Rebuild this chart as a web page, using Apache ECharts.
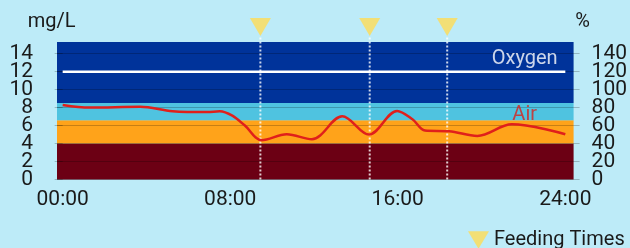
<!DOCTYPE html>
<html>
<head>
<meta charset="utf-8">
<script src="https://cdn.jsdelivr.net/npm/echarts@6/dist/echarts.min.js"></script>
<style>
  html, body { margin: 0; padding: 0; background: #bdebf8; }
  #chart { width: 630px; height: 248px; }
</style>
</head>
<body>
<div id="chart"></div>
<script>
// dissolved oxygen over the day (hours, mg/L)
var doHours  = [0, 1.3, 3.7, 5.25, 6.9, 7.5, 8.1, 8.7, 9.5, 10.7, 11.9, 13.35, 14.63, 15.97, 16.7, 17.3, 18.45, 19.8, 21.45, 24.0];
var doValues = [8.3, 8.0, 8.1, 7.6, 7.5, 7.6, 7.1, 6.0, 4.37, 5.03, 4.48, 7.03, 5.0, 7.62, 6.7, 5.45, 5.37, 4.85, 6.14, 5.03];

// oxygen saturation reference line
var oxygenHours = [0, 24];
var oxygenLevel = 12;

// feeding times (hours)
var feedTimes = [9.44, 14.66, 18.36];

// background bands (mg/L)
var bandFrom = [0, 4, 6.6, 8.5];
var bandTo   = [4, 6.6, 8.5, 15.3];

// labels on the right
var refLabels = ['Oxygen', 'Air'];
var refLabelY = [12, 6.6];
var refLabelX = 22.06;

var xTicks = [0, 8, 16, 24];
var xTickLabels = ['00:00', '08:00', '16:00', '24:00'];
var mgTicks = [0, 2, 4, 6, 8, 10, 12, 14];
var pctTicks = [0, 20, 40, 60, 80, 100, 120, 140];

var bandColors = ['#6c0014', '#ffa31a', '#4fc3e0', '#00339a'];
var font = 'Roboto';
var tickColor = 'rgba(0,0,0,0.22)';

var chart = echarts.init(document.getElementById('chart'));

var series = [];

// bands
series.push({
    type: 'line',
    data: [],
    z: 1,
    silent: true,
    markArea: {
        silent: true,
        data: bandFrom.map(function(f, i) {
            return [{ yAxis: f, itemStyle: { color: bandColors[i] } }, { yAxis: bandTo[i] }];
        })
    }
});

// feeding time dotted lines
feedTimes.forEach(function(t) {
    series.push({
        type: 'line',
        data: [[t, 0], [t, 15.94]],
        clip: false,
        symbol: 'none',
        silent: true,
        z: 4,
        lineStyle: { color: 'rgba(255,255,255,0.8)', width: 2, type: [2, 2] }
    });
});

series.push({
    name: 'Feeding Times',
    type: 'scatter',
    clip: false,
    symbol: 'path://M0,0L24,0L12,20Z',
    symbolSize: [21, 18],
    itemStyle: { color: '#ffdc55' },
    data: feedTimes.map(function(t) { return [t, 16.96]; }),
    z: 6
});

series.push({
    type: 'line',
    data: oxygenHours.map(function(h) { return [h, oxygenLevel]; }),
    symbol: 'none',
    lineStyle: { color: '#ffffff', width: 2.5 },
    z: 5
});

series.push({
    type: 'line',
    data: doHours.map(function(h, i) { return [h, doValues[i]]; }),
    smooth: 0.35,
    symbol: 'none',
    lineStyle: { color: '#e0201b', width: 2.5 },
    z: 5
});

series.push({
    type: 'scatter',
    symbolSize: 1,
    itemStyle: { color: 'rgba(0,0,0,0)' },
    silent: true,
    z: 6,
    data: refLabels.map(function(name, i) {
        return {
            value: [refLabelX, refLabelY[i]],
            label: {
                show: true,
                position: 'top',
                distance: i === 0 ? 2 : 0,
                offset: i === 0 ? [0, 0] : [0, 5],
                formatter: name,
                fontFamily: font,
                fontSize: 20,
                color: i === 0 ? '#ffffff' : '#d9221c'
            }
        };
    })
});

// labels are packed tighter than their font, so each side is split over two
// axes (every other tick) so that none of them get hidden as overlapping
function yAxisPart(side, max, ticks, odd, main) {
    var vals = ticks.filter(function(v, i) { return i % 2 === odd; });
    var left = side === 'left';
    return {
        type: 'value',
        min: 0,
        max: max,
        position: side,
        z: 3,
        name: main ? (left ? 'mg/L' : '%') : '',
        nameGap: 10,
        nameTextStyle: {
            fontFamily: font, fontSize: 20, color: '#1a1a1a',
            padding: left ? [0, 22, 0, 0] : [0, 0, 0, 18]
        },
        axisLine: { show: false },
        axisTick: { show: main, customValues: ticks, length: left ? 8 : 6, lineStyle: { color: tickColor } },
        splitLine: { show: main && left, lineStyle: { color: tickColor, width: 1 } },
        axisLabel: {
            customValues: vals,
            showMinLabel: true,
            showMaxLabel: true,
            fontFamily: font,
            fontSize: 21,
            color: '#1a1a1a',
            margin: left ? 24 : 18
        }
    };
}

chart.setOption({
    animation: false,
    backgroundColor: '#bdebf8',
    textStyle: { fontFamily: font },
    grid: { left: 57, right: 55, top: 42, bottom: 68.5 },
    legend: {
        data: ['Feeding Times'],
        left: 463,
        top: 225,
        itemWidth: 21,
        itemHeight: 18,
        textStyle: { fontFamily: font, fontSize: 20, color: '#1a1a1a' }
    },
    xAxis: {
        type: 'value',
        min: -0.271,
        max: 24.395,
        axisLine: { show: false },
        axisTick: { show: false },
        splitLine: { show: false },
        axisLabel: {
            customValues: xTicks,
            formatter: function(v) { return xTickLabels[xTicks.indexOf(v)]; },
            fontFamily: font,
            fontSize: 21,
            color: '#1a1a1a',
            margin: 10
        }
    },
    yAxis: [
        yAxisPart('left', 15.3, mgTicks, 0, true),
        yAxisPart('right', 153, pctTicks, 0, true),
        yAxisPart('left', 15.3, mgTicks, 1, false),
        yAxisPart('right', 153, pctTicks, 1, false)
    ],
    series: series
});
</script>
</body>
</html>
